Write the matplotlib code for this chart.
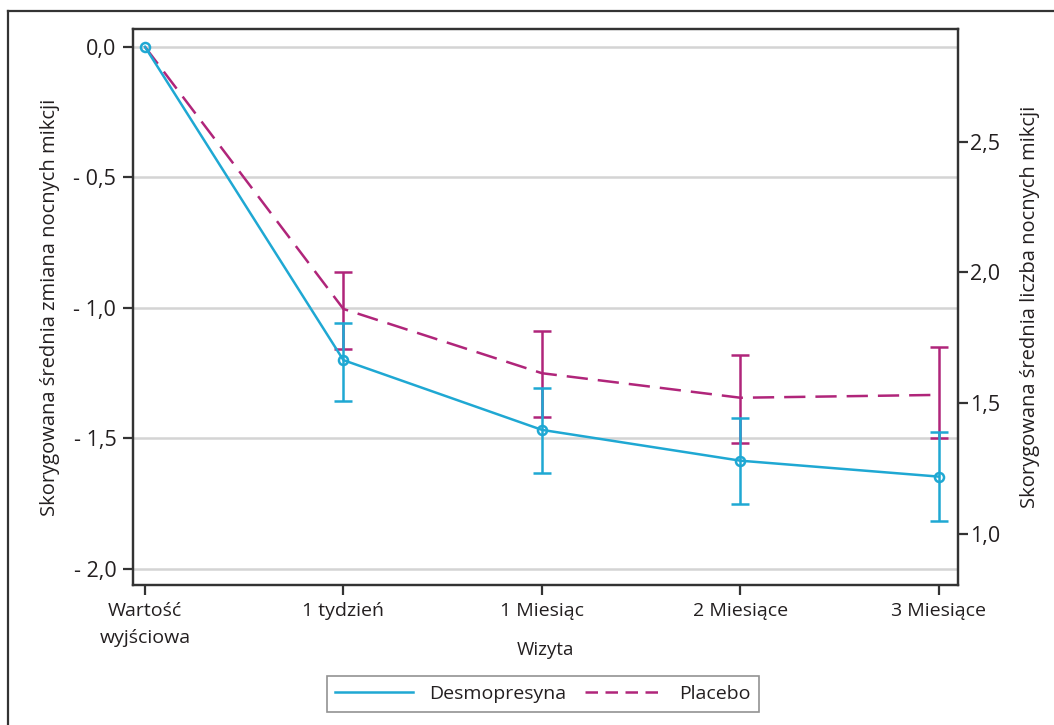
import matplotlib
matplotlib.use("Agg")
import matplotlib.pyplot as plt
from matplotlib.lines import Line2D

plt.rcParams['font.family'] = ['Open Sans', 'DejaVu Sans']

# dane
wizyty = ['Wartość\nwyjściowa', '1 tydzień', '1 Miesiąc', '2 Miesiące', '3 Miesiące']
desmo = [0.0, -1.200, -1.467, -1.585, -1.646]
desmo_gora = [0.0, -1.057, -1.306, -1.420, -1.475]
desmo_dol = [0.0, -1.355, -1.631, -1.752, -1.815]
placebo = [0.0, -1.004, -1.250, -1.344, -1.333]
placebo_gora = [0.0, -0.864, -1.087, -1.180, -1.151]
placebo_dol = [0.0, -1.159, -1.417, -1.518, -1.497]

yticks = [0.0, -0.5, -1.0, -1.5, -2.0]
ytick_labels = ['0,0', '- 0,5', '- 1,0', '- 1,5', '- 2,0']
yticks_r = [1.0, 1.5, 2.0, 2.5]
ytick_labels_r = ['1,0', '1,5', '2,0', '2,5']
przesuniecie = 2.864  # liczba przy zmianie 0

cyan = '#1fa8d3'
magenta = '#b0257a'
txt = '#231f20'

fig = plt.figure(figsize=(10.54, 7.25), dpi=100)
ax = fig.add_axes([0.1262, 0.1931, 0.7827, 0.7669])

x = list(range(len(wizyty)))

# placebo
ax.plot(x, placebo, color=magenta, lw=1.8, dashes=(8.5, 4), zorder=3)
yerr_p = [[p - d for p, d in zip(placebo, placebo_dol)][1:],
          [g - p for p, g in zip(placebo, placebo_gora)][1:]]
ax.errorbar(x[1:], placebo[1:], yerr=yerr_p, fmt='none', ecolor=magenta,
            elinewidth=1.8, capsize=6.5, capthick=1.8, zorder=3)

# desmopresyna
yerr_d = [[p - d for p, d in zip(desmo, desmo_dol)][1:],
          [g - p for p, g in zip(desmo, desmo_gora)][1:]]
ax.errorbar(x[1:], desmo[1:], yerr=yerr_d, fmt='none', ecolor=cyan,
            elinewidth=1.8, capsize=6.5, capthick=1.8, zorder=4)
ax.plot(x, desmo, color=cyan, lw=1.8, marker='o', ms=6.5, mfc='none',
        mec=cyan, mew=1.8, zorder=5)

ax.set_xlim(-0.06, 4.096)
ax.set_ylim(-2.061, 0.068)
ax.set_xticks(x)
ax.set_xticklabels(wizyty, fontsize=14, color=txt, linespacing=1.7)
ax.set_yticks(yticks)
ax.set_yticklabels(ytick_labels, fontsize=15.5, color=txt)
ax.grid(axis='y', color='#d4d4d4', lw=1.8, zorder=0)
ax.tick_params(axis='both', length=7, width=1.6, color='#333333', pad=5)
for s in ax.spines.values():
    s.set_linewidth(1.6)
    s.set_color('#333333')
ax.set_xlabel('Wizyta', fontsize=13.5, color=txt, va='center')
ax.xaxis.set_label_coords(0.5, -0.117)
ax.set_ylabel('Skorygowana średnia zmiana nocnych mikcji', fontsize=14.5,
              color=txt, labelpad=10)

ax2 = ax.twinx()
ax2.set_ylim(-2.061 + przesuniecie, 0.068 + przesuniecie)
ax2.set_yticks(yticks_r)
ax2.set_yticklabels(ytick_labels_r, fontsize=15.5, color=txt)
ax2.tick_params(axis='y', length=7, width=1.6, color='#333333', pad=2)
for s in ax2.spines.values():
    s.set_linewidth(1.6)
    s.set_color('#333333')
ax2.set_ylabel('Skorygowana średnia liczba nocnych mikcji', fontsize=14.5,
               color=txt, labelpad=14)

handles = [Line2D([], [], color=cyan, lw=1.8),
           Line2D([], [], color=magenta, lw=1.8, dashes=(5, 3))]
leg = fig.legend(handles, ['Desmopresyna', 'Placebo'], loc='center',
                 bbox_to_anchor=(0.515, 0.0428), ncol=2, fontsize=14,
                 frameon=True, fancybox=False, handlelength=4.0,
                 columnspacing=1.0, borderpad=0.45)
leg.get_frame().set_edgecolor('#777777')
leg.get_frame().set_linewidth(1.2)
for t in leg.get_texts():
    t.set_color(txt)

# ramka zewnetrzna (lewa i gorna krawedz)
fig.add_artist(Line2D([0.0076, 0.0076], [0.0, 0.985], color='#333333', lw=1.6))
fig.add_artist(Line2D([0.0076, 1.0], [0.985, 0.985], color='#333333', lw=1.6))

fig.savefig('out.png', dpi=100)
